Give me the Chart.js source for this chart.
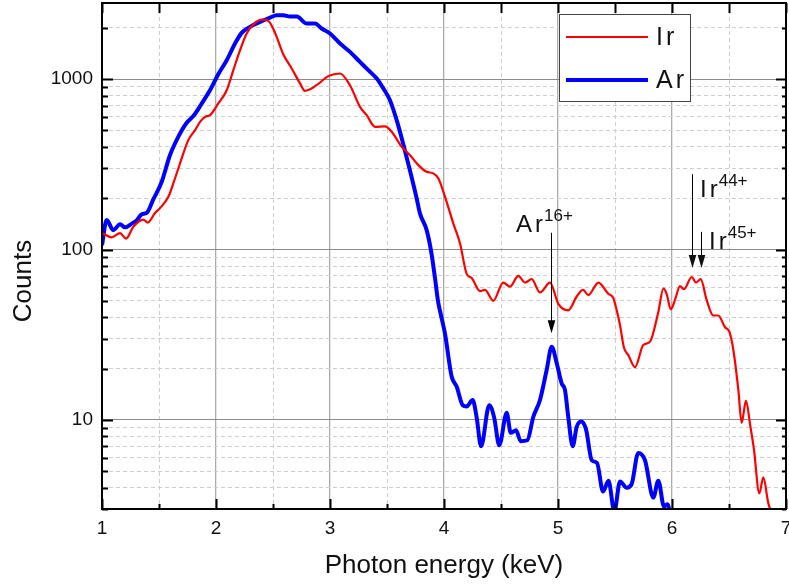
<!DOCTYPE html>
<html><head><meta charset="utf-8">
<script src="https://cdn.jsdelivr.net/npm/chart.js@4.4.1/dist/chart.umd.min.js"></script>
<style>html,body{margin:0;padding:0;background:#fff;overflow:hidden}#wrap{width:789px;height:588px;position:relative}canvas{display:block}</style>
</head><body><div id="wrap"><canvas id="c" width="789" height="588"></canvas></div>
<script>
// ---- data ----
const seriesLabels = ['Ir', 'Ar'];
const irEnergy = [1.000,1.085,1.158,1.211,1.275,1.362,1.401,1.465,1.509,1.582,1.625,1.684,1.757,1.816,1.860,1.904,1.947,2.020,2.094,2.152,2.211,2.269,2.342,2.401,2.459,2.518,2.590,2.664,2.737,2.781,2.883,2.985,3.088,3.175,3.263,3.322,3.395,3.482,3.541,3.629,3.702,3.775,3.848,3.906,3.950,4.009,4.082,4.140,4.199,4.243,4.316,4.360,4.432,4.520,4.579,4.652,4.711,4.769,4.842,4.930,5.003,5.090,5.164,5.220,5.266,5.354,5.441,5.485,5.515,5.544,5.579,5.617,5.675,5.748,5.807,5.880,5.924,5.953,5.989,6.026,6.070,6.105,6.173,6.211,6.252,6.304,6.362,6.406,6.465,6.503,6.538,6.582,6.611,6.649,6.684,6.719,6.766,6.801,6.845,6.868];
const irCounts = [125,118,125,116,136,150,144,164,175,204,244,320,439,502,562,601,615,720,861,1129,1479,1854,2140,2240,2200,1870,1400,1156,944,854,922,1042,1080,922,688,615,525,529,491,401,358,313,286,280,262,204,142,109,72,68,57,58,50,64,60.5,70,64,67,56,64,48,44,53,58,54,64,55,52,44,36,26.5,24,20.4,27.5,28.8,43,59,55,44.6,50.6,61,58.5,69,64,67,50.6,41,41,35,33,25.8,15,9.6,13,9.5,6.7,3.7,4.6,3.24,2.9];
const arEnergy = [1.000,1.041,1.099,1.158,1.202,1.261,1.304,1.348,1.392,1.450,1.524,1.596,1.669,1.743,1.801,1.875,1.947,2.020,2.094,2.167,2.225,2.298,2.386,2.474,2.532,2.590,2.649,2.708,2.796,2.868,2.927,3.000,3.088,3.175,3.263,3.336,3.410,3.468,3.526,3.585,3.643,3.702,3.760,3.789,3.848,3.890,3.921,3.947,3.974,4.009,4.067,4.111,4.164,4.199,4.251,4.286,4.325,4.397,4.439,4.485,4.550,4.585,4.632,4.673,4.731,4.783,4.842,4.901,4.945,4.989,5.032,5.061,5.090,5.129,5.164,5.202,5.246,5.296,5.342,5.395,5.443,5.494,5.544,5.603,5.646,5.704,5.763,5.836,5.880,5.930,5.959,5.991];
const arCounts = [106,149,130,141,135,142,148,161,164,197,250,358,459,555,607,720,861,1070,1292,1619,1871,2028,2168,2300,2373,2373,2330,2330,2122,2122,1983,1854,1619,1446,1263,1129,1009,882,753,575,415,290,200,163,130,95,68,50,41,32,18,15.7,12.2,12,13.1,10.4,7,12.2,10.4,7.1,11,8.4,8.7,7.5,7.6,10.4,13.1,19.7,26.9,21.5,16.4,15,10.4,7,9.1,9.8,8.8,5.8,5.6,3.8,4.4,2.9,4.35,4.0,4.2,6.4,5.8,3.5,4.4,3.1,3.2,2.7];
const xTickValues = [1,1.5,2,2.5,3,3.5,4,4.5,5,5.5,6,6.5,7];
const yTickValues = [3,4,5,6,7,8,9,10,20,30,40,50,60,70,80,90,100,200,300,400,500,600,700,800,900,1000,2000];
const xTitle = 'Photon energy (keV)';
const yTitle = 'Counts';
// peak markers: ion label, superscript, energy, arrow top/tip counts, text anchor
const markerIons = ['Ar', 'Ir', 'Ir'];
const markerCharges = ['16+', '44+', '45+'];
const markerEnergy = [4.939, 6.173, 6.252];
const markerTop = [125.5, 277, 127];
const markerTip = [32.3, 77.9, 77.9];
const markerTextE = [4.632, 6.246, 6.325];
const markerTextC = [126, 203, 100.7];

const FONT = "'Liberation Sans', Arial, sans-serif";
const isMajorX = v => Math.abs(v - Math.round(v)) < 1e-9;
const isDecade = v => { const l = Math.log10(v); return Math.abs(l - Math.round(l)) < 1e-9; };

function spacedText(ctx, text, x, y, spacing) {
  let cx = x;
  for (const ch of text) { ctx.fillText(ch, cx, y); cx += ctx.measureText(ch).width + spacing; }
  return cx - x - spacing;
}

const framePlugin = {
  id: 'frame',
  afterDraw(chart) {
    const { ctx, chartArea: { left, right, top, bottom }, scales: { x, y } } = chart;
    ctx.save();
    // inward tick marks
    ctx.strokeStyle = '#000';
    ctx.lineWidth = 2;
    ctx.beginPath();
    xTickValues.forEach(v => {
      const px = Math.round(x.getPixelForValue(v)) + 0.5;
      const maj = isMajorX(v);
      ctx.moveTo(px, bottom); ctx.lineTo(px, bottom - (maj ? 10 : 5));
      ctx.moveTo(px, top); ctx.lineTo(px, top + 10);
    });
    yTickValues.forEach(v => {
      const py = Math.round(y.getPixelForValue(v)) + 0.5;
      const maj = isDecade(v);
      ctx.moveTo(left, py); ctx.lineTo(left + (maj ? 11 : 6), py);
      ctx.moveTo(right, py); ctx.lineTo(right - (maj ? 10 : 4), py);
    });
    ctx.stroke();
    // frame
    ctx.lineWidth = 2;
    ctx.strokeRect(left, top, right - left, bottom - top);

    // legend
    const lx = 559.5, ly = 14.5, lw = 131, lh = 87;
    ctx.fillStyle = '#fff';
    ctx.fillRect(lx, ly, lw, lh);
    ctx.strokeStyle = '#444';
    ctx.lineWidth = 1;
    ctx.strokeRect(lx, ly, lw, lh);
    const rowsY = [37, 80];
    chart.data.datasets.forEach((ds, i) => {
      ctx.strokeStyle = ds.borderColor;
      ctx.lineWidth = ds.borderWidth;
      ctx.beginPath();
      ctx.moveTo(566, rowsY[i]); ctx.lineTo(648, rowsY[i]);
      ctx.stroke();
      ctx.fillStyle = '#111';
      ctx.font = '25px ' + FONT;
      ctx.textAlign = 'left';
      ctx.textBaseline = 'middle';
      spacedText(ctx, ds.label, 656, rowsY[i] + 1, 3);
    });

    // peak markers with arrows
    ctx.fillStyle = '#000';
    ctx.strokeStyle = '#000';
    markerIons.forEach((ion, i) => {
      const px = Math.round(x.getPixelForValue(markerEnergy[i])) + 0.5;
      const pTop = y.getPixelForValue(markerTop[i]);
      const pTip = y.getPixelForValue(markerTip[i]);
      ctx.lineWidth = 1;
      ctx.beginPath();
      ctx.moveTo(px, pTop); ctx.lineTo(px, pTip - 12);
      ctx.stroke();
      ctx.beginPath();
      ctx.moveTo(px - 3.8, pTip - 13);
      ctx.lineTo(px + 3.8, pTip - 13);
      ctx.lineTo(px, pTip);
      ctx.closePath();
      ctx.fill();
      const tx = x.getPixelForValue(markerTextE[i]);
      const ty = y.getPixelForValue(markerTextC[i]);
      ctx.font = '24px ' + FONT;
      ctx.textAlign = 'left';
      ctx.textBaseline = 'alphabetic';
      ctx.fillStyle = '#111';
      const w = spacedText(ctx, ion, tx, ty, 3);
      ctx.font = '17px ' + FONT;
      ctx.fillText(markerCharges[i], tx + w + 1, ty - 11);
    });

    // y axis title
    ctx.save();
    ctx.translate(24, 281);
    ctx.rotate(-Math.PI / 2);
    ctx.font = '26px ' + FONT;
    ctx.textAlign = 'center';
    ctx.textBaseline = 'middle';
    ctx.fillStyle = '#111';
    ctx.fillText(yTitle, 0, 0);
    ctx.restore();
    ctx.restore();
  }
};

new Chart(document.getElementById('c').getContext('2d'), {
  type: 'line',
  data: {
    datasets: [
      { label: seriesLabels[0], data: irEnergy.map((e, i) => ({ x: e, y: irCounts[i] })),
        borderColor: '#ff0000', borderWidth: 2.2, pointRadius: 0, fill: false, cubicInterpolationMode: 'monotone' },
      { label: seriesLabels[1], data: arEnergy.map((e, i) => ({ x: e, y: arCounts[i] })),
        borderColor: '#0000ff', borderWidth: 4, pointRadius: 0, fill: false, cubicInterpolationMode: 'monotone' }
    ]
  },
  options: {
    responsive: false, animation: false, devicePixelRatio: 1,
    layout: { padding: { top: 3, right: 3, left: 0, bottom: 0 } },
    plugins: { legend: { display: false }, tooltip: { enabled: false } },
    scales: {
      x: {
        type: 'linear', min: 1, max: 7,
        afterBuildTicks: s => { s.ticks = xTickValues.map(v => ({ value: v })); },
        afterFit: s => { s.height = 79; s.paddingLeft = 0; s.paddingRight = 0; },
        ticks: { autoSkip: false, maxRotation: 0, padding: 8, color: '#111',
          font: { family: FONT, size: 19 }, callback: v => isMajorX(v) ? String(Math.round(v)) : '' },
        grid: { drawTicks: false,
          color: c => (c.tick && isMajorX(c.tick.value)) ? '#ababab' : '#cfcfcf',
          lineWidth: c => (c.tick && isMajorX(c.tick.value)) ? 1.3 : 1 },
        border: { display: false, dash: c => (c.tick && !isMajorX(c.tick.value)) ? [4, 3] : [] },
        title: { display: true, text: xTitle, color: '#111', font: { family: FONT, size: 26 }, padding: { top: 0, bottom: 7 } }
      },
      y: {
        type: 'logarithmic', min: 3, max: 2800,
        afterBuildTicks: s => { s.ticks = yTickValues.map(v => ({ value: v })); },
        afterFit: s => { s.width = 102; s.paddingTop = 0; s.paddingBottom = 0; },
        ticks: { autoSkip: false, padding: 9, color: '#111',
          font: { family: FONT, size: 19 }, callback: v => isDecade(v) ? String(Math.round(v)) : '' },
        grid: { drawTicks: false,
          color: c => (c.tick && isDecade(c.tick.value)) ? '#8c8c8c' : '#cfcfcf',
          lineWidth: 1 },
        border: { display: false, dash: c => (c.tick && !isDecade(c.tick.value)) ? [4, 3] : [] }
      }
    }
  },
  plugins: [framePlugin]
});
</script>
</body></html>
